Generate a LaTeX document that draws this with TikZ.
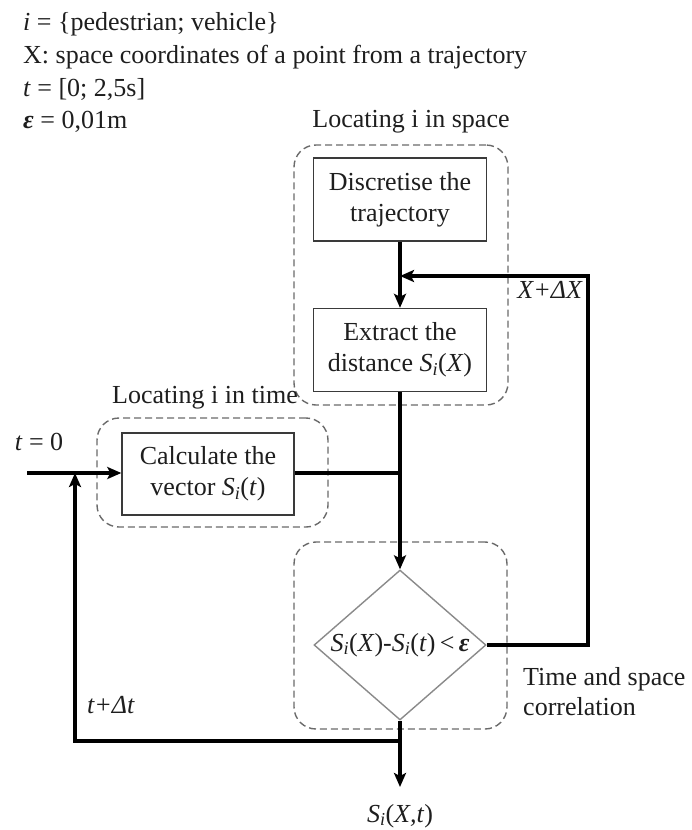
\documentclass[tikz,border=0pt]{standalone}
\usepackage{fontspec}
\setmainfont{Liberation Serif}
\usetikzlibrary{arrows.meta,shapes.geometric}
\newcommand{\Si}{\textit{S}\textsubscript{\textit{i}}}
\definecolor{boxc}{HTML}{3A3A3A}
\definecolor{dashc}{HTML}{6A6A6A}
\definecolor{diac}{HTML}{8A8A8A}
\definecolor{txtc}{HTML}{1E1E1E}
\begin{document}
\begin{tikzpicture}[x=1pt,y=-1pt,
  every node/.style={text=txtc, font=\fontsize{26}{31}\selectfont},
  procbox/.style={draw=boxc, line width=1.4pt, rectangle, align=center, minimum width=173, minimum height=83, inner sep=0},
  grp/.style={draw=dashc, dashed, dash pattern=on 7pt off 4pt, line width=1.4pt, rounded corners=22pt, rectangle, inner sep=0},
  decis/.style={draw=diac, line width=1.4pt, diamond, aspect=1.15, inner sep=0, minimum width=172, minimum height=150},
  flow/.style={line width=3.2pt, black},
  arr/.style={flow, -{Stealth[length=14pt,width=12pt,inset=3pt]}},
  lbl/.style={inner sep=0}
]
\useasboundingbox (0,0) rectangle (692,830);

% top notes
\node[lbl, anchor=base west] (n1) at (23,30) {\textit{i} = \{pedestrian; vehicle\}};
\node[lbl, anchor=base west] (n2) at (23,63) {X: space coordinates of a point from a trajectory};
\node[lbl, anchor=base west] (n3) at (23,96) {\textit{t} = [0; 2,5s]};
\node[lbl, anchor=base west] (n4) at (23,128) {\textbf{\textit{ε}} = 0,01m};

% groups
\node[grp, minimum width=214, minimum height=260] (gspace) at (401,275) {};
\node[grp, minimum width=231, minimum height=109] (gtime) at (212.5,472.5) {};
\node[grp, minimum width=213, minimum height=187] (gcorr) at (400.5,635.5) {};

\node[lbl, anchor=base] (lspace) at (411,127) {Locating i in space};
\node[lbl, anchor=base] (ltime) at (205,403) {Locating i in time};
\node[lbl, anchor=base west] (lcorr1) at (523,685) {Time and space};
\node[lbl, anchor=base west] (lcorr2) at (523,715) {correlation};

% process boxes
\node[procbox] (disc) at (400,199.5) {Discretise the\\trajectory};
\node[procbox] (extr) at (400,350) {Extract the\\distance \Si(\textit{X})};
\node[procbox, minimum width=172, minimum height=82] (calc) at (208,474) {Calculate the\\vector \Si(\textit{t})};
\node[decis] (dia) at (400,645) {\Si(\textit{X})-\Si(\textit{t})\,<\,\textbf{\textit{ε}}};

% coordinates
\coordinate (start) at (27,473);
\coordinate (j1) at (400,473);
\coordinate (jx) at (400,276);
\coordinate (rc) at (588,645);
\coordinate (rt) at (588,276);
\coordinate (j2) at (400,741);
\coordinate (lb) at (75,741);
\coordinate (lt) at (75,473);
\coordinate (outp) at (400,787);

% connectors
\draw[arr] (disc.south) -- (extr.north);
\draw[arr] (extr.south) -- (j1) -- (dia.north);
\draw[flow] (calc.east |- j1) -- (j1);
\draw[arr] (start) -- (calc.west |- start);
\draw[arr] (dia.east) -- (rc) -- (rt) -- (jx);
\draw[arr] (dia.south) -- (outp);
\draw[arr] (j2) -- (lb) -- (lt);

% labels
\node[lbl, anchor=base] (l0) at (39,450) {\textit{t} = 0};
\node[lbl, anchor=base east] (ldx) at (583,298) {\textit{X+ΔX}};
\node[lbl, anchor=base west] (ldt) at (87,713) {\textit{t+Δt}};
\node[lbl, anchor=base] (lout) at (400,822) {\Si(\textit{X,t})};
\end{tikzpicture}
\end{document}
